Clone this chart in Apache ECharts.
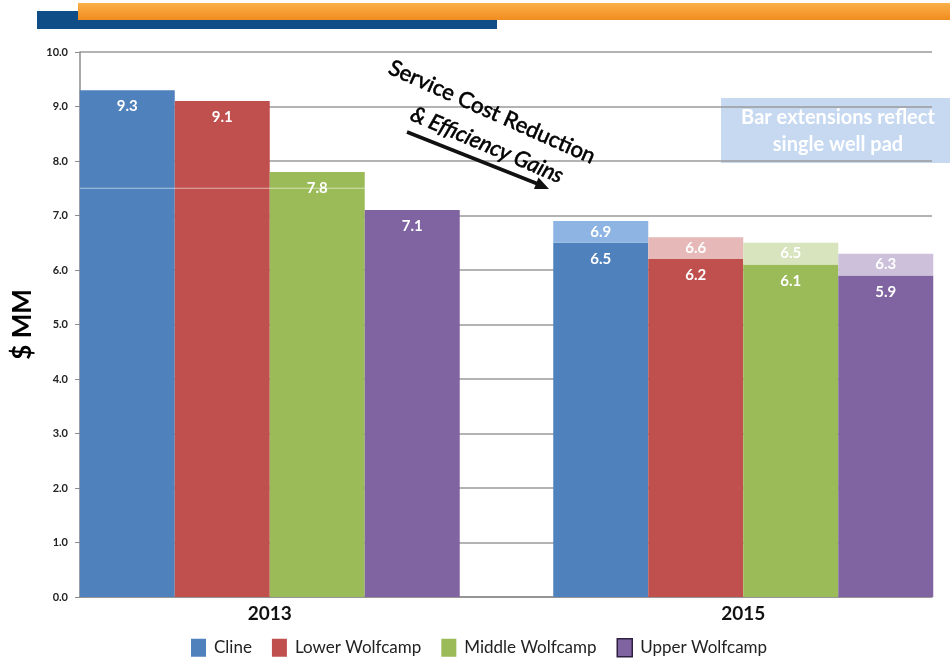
<!DOCTYPE html>
<html>
<head>
<meta charset="utf-8">
<title>Well Cost</title>
<script src="https://cdn.jsdelivr.net/npm/echarts@6/dist/echarts.min.js"></script>
<style>
  html, body { margin: 0; padding: 0; background: #fff; }
  #chart { width: 950px; height: 664px; }
</style>
</head>
<body>
<div id="chart"></div>
<script>
// data
const years = ['2013', '2015'];
const seriesNames = ['Cline', 'Lower Wolfcamp', 'Middle Wolfcamp', 'Upper Wolfcamp'];
const baseCost = [
  [9.3, 6.5],   // Cline
  [9.1, 6.2],   // Lower Wolfcamp
  [7.8, 6.1],   // Middle Wolfcamp
  [7.1, 5.9]    // Upper Wolfcamp
];
// top of the bar extension (single well pad), 2015 only
const extTop = [
  ['-', 6.9],
  ['-', 6.6],
  ['-', 6.5],
  ['-', 6.3]
];
const yTicks = [0, 10, 1];  // min, max, interval

const baseColors = ['#4f81bd', '#c0504d', '#9bbb59', '#8064a2'];
const extColors = ['#8db4e2', '#e6b8b7', '#d7e4bd', '#ccc0da'];
const font = 'Lato, "Open Sans", sans-serif';

const chart = echarts.init(document.getElementById('chart'));

const series = [];
seriesNames.forEach((name, i) => {
  series.push({
    name: name,
    type: 'bar',
    xAxisIndex: 1,
    yAxisIndex: 1,
    stack: 's' + i,
    barWidth: 95,
    barGap: '0%',
    data: baseCost[i],
    itemStyle: { color: baseColors[i] },
    label: {
      show: true,
      position: 'insideTop',
      distance: 9,
      color: '#fff',
      fontFamily: font,
      fontWeight: 'bold',
      fontSize: 15,
      formatter: p => p.value.toFixed(1)
    }
  });
});
seriesNames.forEach((name, i) => {
  // stacked piece = extension top minus base
  const diff = extTop[i].map((v, k) => v === '-' ? '-' : +(v - baseCost[i][k]).toFixed(2));
  series.push({
    name: name + ' ext',
    type: 'bar',
    xAxisIndex: 1,
    yAxisIndex: 1,
    stack: 's' + i,
    barWidth: 95,
    barGap: '0%',
    data: diff,
    itemStyle: { color: extColors[i] },
    label: {
      show: true,
      position: 'inside',
      color: '#fff',
      fontFamily: font,
      fontWeight: 'bold',
      fontSize: 15,
      formatter: p => extTop[i][p.dataIndex].toFixed(1)
    }
  });
});

const option = {
  animation: false,
  textStyle: { fontFamily: font },
  grid: [
    // visible frame: y axis, gridlines, x axis line
    { left: 80, right: 18, top: 52, bottom: 67, outerBoundsMode: 'none' },
    // wider grid that places the bar groups like the slide
    { left: 33, width: 947, top: 52, bottom: 67, outerBoundsMode: 'none' }
  ],
  legend: {
    data: [
      { name: 'Cline' },
      { name: 'Lower Wolfcamp' },
      { name: 'Middle Wolfcamp' },
      { name: 'Upper Wolfcamp', itemStyle: { borderColor: '#2e2140', borderWidth: 1.5 } }
    ],
    left: 186,
    top: 636,
    padding: [2, 5],
    icon: 'rect',
    itemWidth: 15,
    itemHeight: 18,
    itemGap: 20,
    textStyle: { fontSize: 17, color: '#222', fontFamily: font, padding: [0, 0, 0, 3] }
  },
  xAxis: [
    {
      type: 'category',
      gridIndex: 0,
      data: years,
      axisLine: { lineStyle: { color: '#8c8c8c', width: 1.5 } },
      axisTick: { show: false },
      axisLabel: { show: false }
    },
    {
      type: 'category',
      gridIndex: 1,
      data: years,
      axisLine: { show: false },
      axisTick: { show: false },
      axisLabel: {
        margin: 7,
        color: '#111',
        fontSize: 19,
        fontWeight: 'bold',
        fontFamily: font
      }
    }
  ],
  yAxis: [
    {
      type: 'value',
      gridIndex: 0,
      min: yTicks[0],
      max: yTicks[1],
      interval: yTicks[2],
      name: '$ MM',
      nameLocation: 'middle',
      nameRotate: 90,
      nameGap: 44,
      nameTextStyle: { fontSize: 26, fontWeight: 'bold', color: '#000', fontFamily: font },
      axisLine: { show: true, lineStyle: { color: '#8c8c8c', width: 1.5 } },
      axisTick: { show: true, length: 5, lineStyle: { color: '#8c8c8c' } },
      axisLabel: {
        margin: 12,
        color: '#222',
        fontSize: 11,
        fontWeight: 'bold',
        fontFamily: font,
        formatter: v => v.toFixed(1)
      },
      splitLine: { lineStyle: { color: '#9a9a9a', width: 1.5 } }
    },
    {
      type: 'value',
      gridIndex: 1,
      min: yTicks[0],
      max: yTicks[1],
      interval: yTicks[2],
      show: false
    }
  ],
  series: series,
  graphic: [
    // slide header bars
    { type: 'rect', shape: { x: 37, y: 11, width: 460, height: 18 }, style: { fill: '#0e4d86' }, z: 10 },
    {
      type: 'rect', shape: { x: 78, y: 3, width: 880, height: 17 },
      style: {
        fill: new echarts.graphic.LinearGradient(0, 0, 0, 1, [
          { offset: 0, color: '#fbb04a' },
          { offset: 1, color: '#f08c1e' }
        ]),
        shadowBlur: 4, shadowOffsetY: 2, shadowColor: 'rgba(0,0,0,0.35)'
      },
      z: 11
    },
    // annotation
    {
      type: 'text', x: 492, y: 112, rotation: -24 * Math.PI / 180, z: 20,
      style: { text: 'Service Cost Reduction', x: 0, y: 0, align: 'center', verticalAlign: 'middle',
        fontSize: 22, fontFamily: font, fill: '#000', stroke: '#000', lineWidth: 0.6 }
    },
    {
      type: 'text', x: 487, y: 145, rotation: -23 * Math.PI / 180, z: 20,
      style: { text: '& Efficiency Gains', x: 0, y: 0, align: 'center', verticalAlign: 'middle',
        fontSize: 22, fontStyle: 'italic', fontFamily: font, fill: '#000', stroke: '#000', lineWidth: 0.6 }
    },
    {
      type: 'line', z: 20,
      shape: { x1: 407, y1: 132, x2: 538, y2: 184 },
      style: { stroke: '#111', lineWidth: 3.5 }
    },
    {
      type: 'polygon', z: 20,
      shape: { points: [[549, 189], [534, 189], [538.5, 177.5]] },
      style: { fill: '#111' }
    },
    // side note box
    {
      type: 'group', x: 721, y: 98, z: 20,
      children: [
        { type: 'rect', shape: { x: 0, y: 0, width: 229, height: 65 }, style: { fill: '#c6d9f1' } },
        { type: 'text', style: { text: 'Bar extensions reflect\nsingle well pad', x: 117, y: 33,
          align: 'center', verticalAlign: 'middle', lineHeight: 27,
          fontSize: 20, fontWeight: 'bold', fontFamily: font, fill: '#fff' } }
      ]
    }
  ]
};

chart.setOption(option);

// faint light line seen across the 2013 bars
const yLine = chart.convertToPixel({ yAxisIndex: 0 }, 7.5);
chart.setOption({
  graphic: option.graphic.concat([{
    type: 'line', z: 15,
    shape: { x1: 80, y1: yLine, x2: 365, y2: yLine },
    style: { stroke: 'rgba(255,255,255,0.55)', lineWidth: 1 }
  }])
});
</script>
</body>
</html>
